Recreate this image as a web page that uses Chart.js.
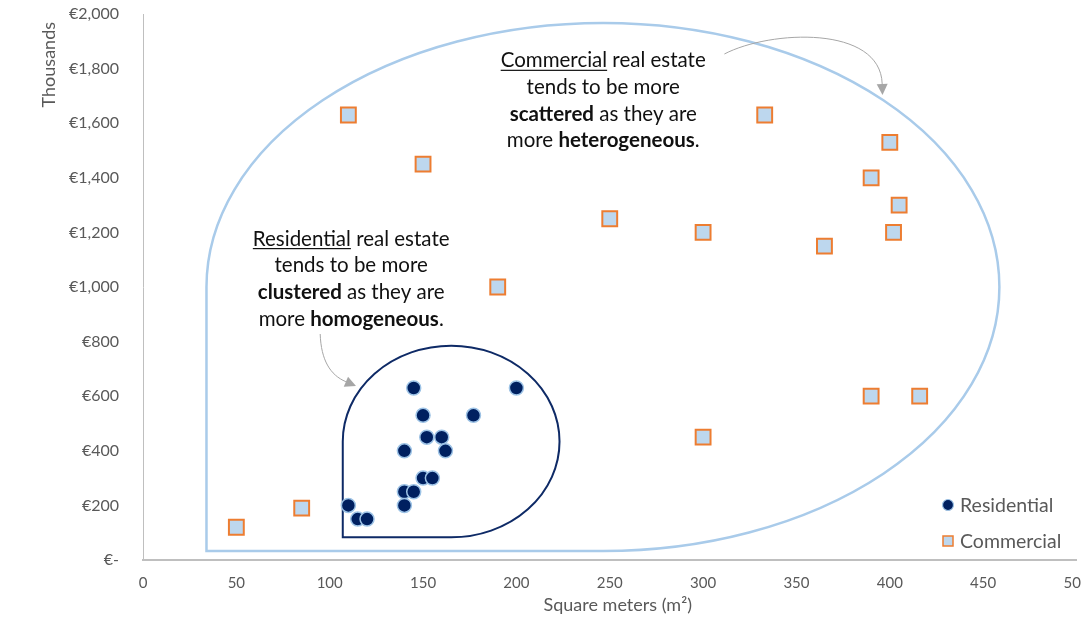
<!DOCTYPE html>
<html><head><meta charset="utf-8">
<script src="https://cdn.jsdelivr.net/npm/chart.js@4.4.1/dist/chart.umd.min.js"></script>
<style>html,body{margin:0;padding:0;background:#fff;overflow:hidden}canvas{display:block}</style>
</head><body>
<canvas id="c" width="1089" height="627"></canvas>
<script>
// ---- data ----
const residentialSqm   = [145, 200, 150, 177, 152, 160, 140, 162, 150, 155, 140, 145, 140, 110, 115, 120];
const residentialPrice = [630, 630, 530, 530, 450, 450, 400, 400, 300, 300, 250, 250, 200, 200, 150, 150];
const commercialSqm    = [50, 85, 110, 150, 190, 250, 300, 300, 333, 365, 390, 400, 405, 402, 390, 416];
const commercialPrice  = [120, 190, 1630, 1450, 1000, 1250, 1200, 450, 1630, 1150, 1400, 1530, 1300, 1200, 600, 600];
const seriesNames = ['Residential', 'Commercial'];
const xTickValues = [0, 50, 100, 150, 200, 250, 300, 350, 400, 450, 500];
const yTickValues = [0, 200, 400, 600, 800, 1000, 1200, 1400, 1600, 1800, 2000];
const xTitle = 'Square meters (m\u00B2)';
const yTitle = 'Thousands';

// ---- annotation text ----
const commercialNote = [
  [{t: 'Commercial', u: true}, {t: ' real estate'}],
  [{t: 'tends to be more'}],
  [{t: 'scattered', b: true}, {t: ' as they are'}],
  [{t: 'more '}, {t: 'heterogeneous', b: true}, {t: '.'}]
];
const residentialNote = [
  [{t: 'Residential', u: true}, {t: ' real estate'}],
  [{t: 'tends to be more'}],
  [{t: 'clustered', b: true}, {t: ' as they are'}],
  [{t: 'more '}, {t: 'homogeneous', b: true}, {t: '.'}]
];

// ---- annotation geometry (in data units) ----
const regions = [
  {left: 34.0, right: 458.7, cx: 246.5, top: 1967, bottom: 33, cy: 1000, color: '#A9CBEA', width: 2.5},
  {left: 107.0, right: 223.1, cx: 165.1, top: 785, bottom: 83, cy: 434, color: '#0E2A66', width: 2}
];
const arrows = [
  {p0: [311.4, 1853.5], c1: [336.0, 1941.4], c2: [395.0, 1959.7], tip: [396.1, 1703.3]},
  {p0: [94.9, 827.8], c1: [95.4, 732.6], c2: [100.2, 677.7], tip: [114.1, 637.4]}
];
const notes = [
  {lines: commercialNote, cx: 246.5, y0: 1805},
  {lines: residentialNote, cx: 111.5, y0: 1152}
];

const FONT = 'Lato, "Open Sans", sans-serif';
const GRAY = '#595959';

const resData = residentialSqm.map((x, i) => ({x: x, y: residentialPrice[i]}));
const comData = commercialSqm.map((x, i) => ({x: x, y: commercialPrice[i]}));

const annotationsPlugin = {
  id: 'annotations',
  beforeDatasetsDraw(chart) {
    const ctx = chart.ctx, xs = chart.scales.x, ys = chart.scales.y;
    regions.forEach(r => {
      const L = xs.getPixelForValue(r.left), R = xs.getPixelForValue(r.right), CX = xs.getPixelForValue(r.cx);
      const T = ys.getPixelForValue(r.top), B = ys.getPixelForValue(r.bottom), CY = ys.getPixelForValue(r.cy);
      ctx.save();
      ctx.beginPath();
      ctx.moveTo(L, B);
      ctx.lineTo(L, CY);
      ctx.ellipse(CX, CY, CX - L, CY - T, 0, Math.PI, 1.5 * Math.PI);
      ctx.ellipse(CX, CY, R - CX, CY - T, 0, 1.5 * Math.PI, 2 * Math.PI);
      ctx.ellipse(CX, CY, R - CX, B - CY, 0, 0, 0.5 * Math.PI);
      ctx.closePath();
      ctx.strokeStyle = r.color;
      ctx.lineWidth = r.width;
      ctx.stroke();
      ctx.restore();
    });
  },
  afterDraw(chart) {
    const ctx = chart.ctx, xs = chart.scales.x, ys = chart.scales.y, area = chart.chartArea;
    const P = a => [xs.getPixelForValue(a[0]), ys.getPixelForValue(a[1])];
    // axis titles
    ctx.save();
    ctx.fillStyle = GRAY;
    ctx.font = '18px ' + FONT;
    ctx.textBaseline = 'middle';
    ctx.textAlign = 'center';
    ctx.fillText(xTitle, (area.left + area.right) / 2 + 8, 605);
    ctx.translate(49, area.top + 8);
    ctx.rotate(-Math.PI / 2);
    ctx.textAlign = 'right';
    ctx.fillText(yTitle, 0, 0);
    ctx.restore();
    // arrows
    arrows.forEach(a => {
      const p0 = P(a.p0), c1 = P(a.c1), c2 = P(a.c2), tip = P(a.tip);
      let dx = tip[0] - c2[0], dy = tip[1] - c2[1];
      const len = Math.hypot(dx, dy); dx /= len; dy /= len;
      const hl = 11, hw = 5.5;
      const base = [tip[0] - dx * hl, tip[1] - dy * hl];
      ctx.save();
      ctx.strokeStyle = '#A6A6A6'; ctx.fillStyle = '#A6A6A6'; ctx.lineWidth = 1;
      ctx.beginPath();
      ctx.moveTo(p0[0], p0[1]);
      ctx.bezierCurveTo(c1[0], c1[1], c2[0], c2[1], base[0], base[1]);
      ctx.stroke();
      ctx.beginPath();
      ctx.moveTo(tip[0], tip[1]);
      ctx.lineTo(base[0] - dy * hw, base[1] + dx * hw);
      ctx.lineTo(base[0] + dy * hw, base[1] - dx * hw);
      ctx.closePath();
      ctx.fill();
      ctx.restore();
    });
    // notes
    const size = 20.5, lh = 26.7;
    notes.forEach(n => {
      const cx = xs.getPixelForValue(n.cx), y0 = ys.getPixelForValue(n.y0);
      ctx.save();
      ctx.fillStyle = '#111111';
      ctx.textBaseline = 'alphabetic';
      ctx.textAlign = 'left';
      n.lines.forEach((segs, i) => {
        const y = y0 + i * lh;
        const widths = segs.map(s => { ctx.font = (s.b ? 'bold ' : '') + size + 'px ' + FONT; return ctx.measureText(s.t).width; });
        const total = widths.reduce((a, b) => a + b, 0);
        let x = cx - total / 2;
        segs.forEach((s, j) => {
          ctx.font = (s.b ? 'bold ' : '') + size + 'px ' + FONT;
          ctx.fillText(s.t, x, y);
          if (s.u) ctx.fillRect(x, y + 2.5, widths[j], 1.2);
          x += widths[j];
        });
      });
      ctx.restore();
    });
    // legend
    const ds = chart.data.datasets;
    const lx = 948, ly = [505, 541];
    ctx.save();
    ds.forEach((d, i) => {
      ctx.fillStyle = d.backgroundColor; ctx.strokeStyle = d.borderColor;
      ctx.lineWidth = d.pointStyle === 'rect' ? 1.5 : 1.2;
      ctx.beginPath();
      if (d.pointStyle === 'rect') ctx.rect(lx - 5, ly[i] - 5, 10, 10);
      else ctx.arc(lx, ly[i], 5.5, 0, Math.PI * 2);
      ctx.fill(); ctx.stroke();
      ctx.fillStyle = GRAY;
      ctx.font = '19.5px ' + FONT;
      ctx.textBaseline = 'middle';
      ctx.textAlign = 'left';
      ctx.fillText(d.label, lx + 12, ly[i] + 1);
    });
    ctx.restore();
  }
};

new Chart(document.getElementById('c'), {
  type: 'scatter',
  data: {
    datasets: [
      {label: seriesNames[0], data: resData, pointStyle: 'circle', pointRadius: 7, pointHoverRadius: 7,
       backgroundColor: '#002060', borderColor: '#9DC3E6', borderWidth: 1.5},
      {label: seriesNames[1], data: comData, pointStyle: 'rect', pointRadius: 10.5, pointHoverRadius: 10.5,
       backgroundColor: '#BDD7EE', borderColor: '#ED7D31', borderWidth: 2}
    ]
  },
  options: {
    responsive: false,
    animation: false,
    devicePixelRatio: 1,
    layout: {padding: {top: 14, right: 0, bottom: 0, left: 0}},
    plugins: {legend: {display: false}, tooltip: {enabled: false}},
    events: [],
    scales: {
      x: {
        type: 'linear', min: 0, max: 500,
        afterBuildTicks: s => { s.ticks = xTickValues.map(v => ({value: v})); },
        afterFit: s => { s.height = 67; s.paddingRight = 0; s.paddingLeft = 0; },
        grid: {display: false, drawTicks: false},
        border: {display: true, color: '#BFBFBF', width: 2},
        ticks: {color: GRAY, font: {family: FONT, size: 15}, padding: 14, maxRotation: 0},
        title: {display: false}
      },
      y: {
        type: 'linear', min: 0, max: 2000,
        afterBuildTicks: s => { s.ticks = yTickValues.map(v => ({value: v})); },
        afterFit: s => { s.width = 143; s.paddingTop = 0; s.paddingBottom = 0; },
        grid: {display: false, drawTicks: false},
        border: {display: true, color: '#BFBFBF', width: 1},
        ticks: {color: GRAY, font: {family: FONT, size: 16}, padding: 24,
                callback: v => v === 0 ? '\u20AC-' : '\u20AC' + v.toLocaleString('en-US')},
        title: {display: false}
      }
    }
  },
  plugins: [annotationsPlugin]
});
</script>
</body></html>
